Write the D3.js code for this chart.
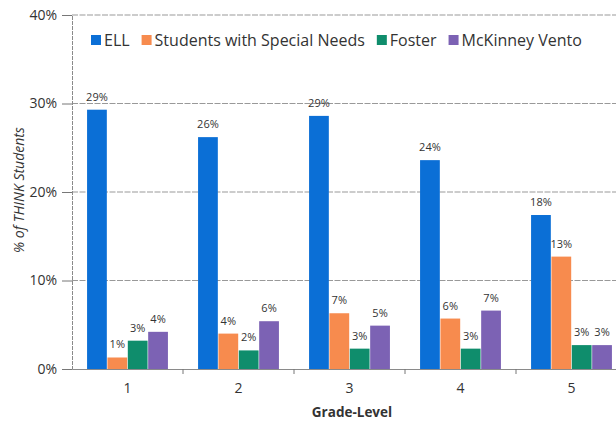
<!DOCTYPE html>
<html>
<head>
<meta charset="utf-8">
<script src="https://cdn.jsdelivr.net/npm/d3@7"></script>
<style>
  html, body { margin: 0; padding: 0; background: #ffffff; }
  svg { display: block; }
  text { font-family: "Open Sans", "DejaVu Sans", sans-serif; fill: #333; }
</style>
</head>
<body>
<svg id="chart" width="616" height="423"></svg>
<script>
const grades = ["1", "2", "3", "4", "5"];
const seriesNames = ["ELL", "Students with Special Needs", "Foster", "McKinney Vento"];
const ell      = [29.3, 26.2, 28.6, 23.6, 17.4];
const special  = [1.3, 4.0, 6.3, 5.7, 12.7];
const foster   = [3.2, 2.1, 2.3, 2.3, 2.7];
const mckinney = [4.2, 5.4, 4.9, 6.6, 2.7];
const labelsELL      = ["29%", "26%", "29%", "24%", "18%"];
const labelsSpecial  = ["1%", "4%", "7%", "6%", "13%"];
const labelsFoster   = ["3%", "2%", "3%", "3%", "3%"];
const labelsMckinney = ["4%", "6%", "5%", "7%", "3%"];
const yTicks = [0, 10, 20, 30, 40];
const colors = ["#0b6fd6", "#f78b4e", "#0f8d6c", "#7c62b4"];

const seriesValues = [ell, special, foster, mckinney];
const seriesLabels = [labelsELL, labelsSpecial, labelsFoster, labelsMckinney];

const svg = d3.select("#chart");
const mLeft = 72, mRight = 627, mTop = 15, mBottom = 369;

const x0 = d3.scaleBand().domain(grades).range([mLeft, mRight]).paddingInner(0).paddingOuter(0);
const x1 = d3.scaleBand().domain(seriesNames).range([0, x0.bandwidth()]).paddingInner(0.03).paddingOuter(0.74);
const y = d3.scaleLinear().domain([0, 40]).range([mBottom, mTop]);

// gridlines
svg.append("g").selectAll("line").data(yTicks.filter(t => t > 0)).join("line")
  .attr("x1", mLeft).attr("x2", 616)
  .attr("y1", d => y(d)).attr("y2", d => y(d))
  .attr("stroke", "#999").attr("stroke-width", 1).attr("stroke-dasharray", "6,1.5");

// y axis
const yAxis = d3.axisLeft(y).tickValues(yTicks).tickFormat(d => d + "%").tickSize(10).tickPadding(5);
const gy = svg.append("g").attr("transform", `translate(${mLeft},0)`).call(yAxis);
gy.select(".domain").attr("stroke", "#8a8a8a").attr("stroke-dasharray", "4,1");
gy.selectAll(".tick line").attr("stroke", "#777");
gy.selectAll("text").attr("font-size", 14).attr("fill", "#3a3a3a")
  .attr("font-family", "'Open Sans', sans-serif");

// bars
const groups = svg.append("g").selectAll("g").data(grades).join("g")
  .attr("transform", d => `translate(${x0(d)},0)`);

seriesNames.forEach((name, si) => {
  groups.append("rect")
    .attr("x", x1(name))
    .attr("width", x1.bandwidth())
    .attr("y", (d, i) => y(seriesValues[si][i]))
    .attr("height", (d, i) => y(0) - y(seriesValues[si][i]))
    .attr("fill", colors[si]);
  groups.append("text")
    .attr("x", x1(name) + x1.bandwidth() / 2)
    .attr("y", (d, i) => y(seriesValues[si][i]) - 9)
    .attr("text-anchor", "middle")
    .attr("font-size", 11)
    .attr("fill", "#333")
    .text((d, i) => seriesLabels[si][i]);
});

// x axis
const xAxis = d3.axisBottom(x0).tickSize(0).tickPadding(14);
const gx = svg.append("g").attr("transform", `translate(0,${mBottom})`).call(xAxis);
gx.select(".domain").attr("stroke", "#8a8a8a");
gx.selectAll("text").attr("font-size", 14).attr("fill", "#333")
  .attr("font-family", "'Open Sans', sans-serif");
// category boundary ticks
svg.append("g").selectAll("line").data(grades.slice(1)).join("line")
  .attr("x1", d => x0(d)).attr("x2", d => x0(d))
  .attr("y1", mBottom).attr("y2", mBottom + 5)
  .attr("stroke", "#777");

// axis titles
svg.append("text")
  .attr("transform", `translate(24,190) rotate(-90)`)
  .attr("text-anchor", "middle")
  .attr("font-size", 14).attr("font-style", "italic").attr("fill", "#333")
  .text("% of THINK Students");
svg.append("text")
  .attr("x", 352).attr("y", 417)
  .attr("text-anchor", "middle")
  .attr("font-size", 13.5).attr("font-weight", "bold").attr("fill", "#333")
  .text("Grade-Level");

// legend
const legend = svg.append("g");
let lx = 91;
seriesNames.forEach((name, si) => {
  legend.append("rect").attr("x", lx).attr("y", 35).attr("width", 10).attr("height", 10).attr("fill", colors[si]);
  const t = legend.append("text").attr("x", lx + 13).attr("y", 46)
    .attr("font-size", 16).attr("fill", "#333").text(name);
  lx += 13 + t.node().getComputedTextLength() + 12;
});
</script>
</body>
</html>
